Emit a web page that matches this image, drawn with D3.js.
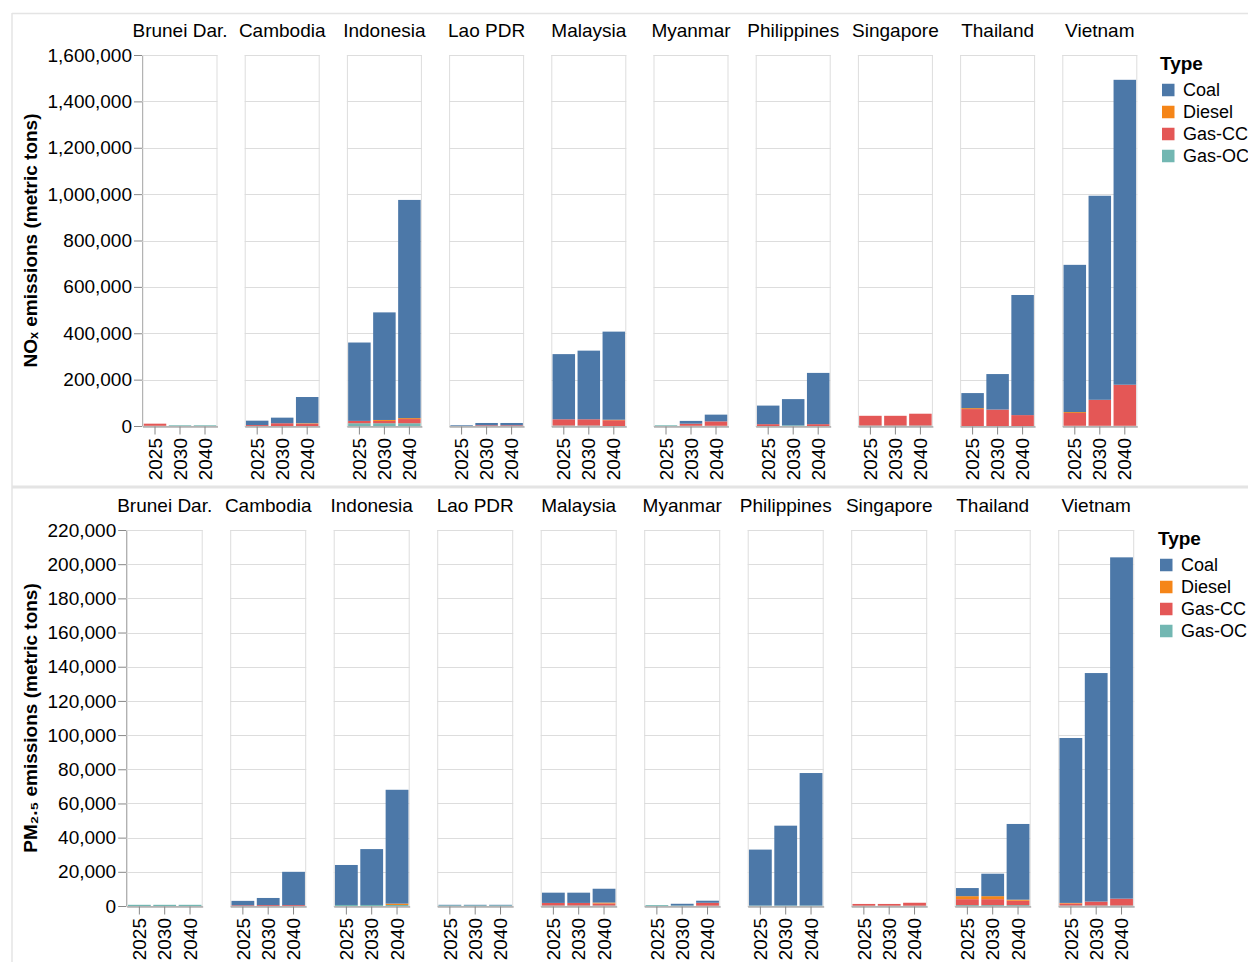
<!DOCTYPE html>
<html>
<head>
<meta charset="utf-8">
<script src="https://cdn.jsdelivr.net/npm/d3@7"></script>
<style>
  html, body { margin: 0; padding: 0; background: #fff; }
  svg text { font-family: "Liberation Sans", Arial, Helvetica, sans-serif; fill: #000; }
</style>
</head>
<body>
<svg id="chart" width="1248" height="962"></svg>
<script>
// ---------- data ----------
const countries = ["Brunei Dar.", "Cambodia", "Indonesia", "Lao PDR", "Malaysia", "Myanmar", "Philippines", "Singapore", "Thailand", "Vietnam"];
const years = ["2025", "2030", "2040"];
const types = ["Coal", "Diesel", "Gas-CC", "Gas-OC"];
const typeColors = ["#4c78a8", "#f58518", "#e45756", "#72b7b2"];

// NOx emissions (metric tons), per country: [2025, 2030, 2040]
const noxCoal   = [[0,0,0],[19000,24000,113000],[338000,464000,941000],[3000,10000,10000],[281000,296000,380000],[0,12000,29000],[80000,113000,221000],[0,0,0],[65000,153000,518000],[635000,880000,1315000]];
const noxDiesel = [[0,0,0],[0,0,2000],[0,4000,4000],[0,0,0],[0,0,2000],[0,0,0],[0,0,0],[0,0,0],[4000,0,0],[4000,0,0]];
const noxGasCC  = [[9000,0,0],[4000,12000,10000],[10000,10000,18000],[0,3000,3000],[27000,27000,25000],[0,9000,19000],[8000,0,8000],[42000,42000,51000],[73000,71000,47000],[55000,112000,177000]];
const noxGasOC  = [[1000,3000,3000],[0,0,0],[12000,12000,12000],[0,0,0],[2000,2000,0],[3000,1000,1000],[0,3000,0],[2000,2000,2000],[0,0,0],[1000,1000,1000]];
const noxTicks  = [0,200000,400000,600000,800000,1000000,1200000,1400000,1600000];

// PM2.5 emissions (metric tons), per country: [2025, 2030, 2040]
const pmCoal   = [[0,0,0],[2600,4200,19500],[23400,32700,66600],[300,300,300],[6000,6000,8100],[0,1000,1200],[32700,46700,77500],[0,0,0],[4750,13150,44300],[96500,133700,199700]];
const pmDiesel = [[0,0,0],[0,0,0],[0,0,800],[0,0,0],[0,0,500],[0,0,0],[0,0,0],[0,0,0],[1750,1750,600],[300,0,0]];
const pmGasCC  = [[0,0,0],[400,500,500],[0,0,0],[0,0,0],[1500,1500,1200],[0,0,1700],[0,0,0],[1000,1000,1700],[3500,3500,2600],[1200,2300,4000]];
const pmGasOC  = [[700,700,700],[0,0,0],[600,600,600],[400,400,400],[300,300,300],[500,300,200],[300,300,300],[200,200,200],[500,500,500],[300,300,300]];
const pmTicks  = [0,20000,40000,60000,80000,100000,120000,140000,160000,180000,200000,220000];

// ---------- drawing ----------
const svg = d3.select("#chart");
const FONT = 19;

// frame lines
svg.append("line").attr("x1", 12).attr("x2", 1248).attr("y1", 13.5).attr("y2", 13.5).attr("stroke", "#e4e4e4").attr("stroke-width", 1.5);
svg.append("line").attr("x1", 12).attr("x2", 12).attr("y1", 13).attr("y2", 962).attr("stroke", "#e4e4e4").attr("stroke-width", 1.5);
svg.append("line").attr("x1", 12).attr("x2", 1248).attr("y1", 487).attr("y2", 487).attr("stroke", "#e4e4e4").attr("stroke-width", 3);

const colorScale = d3.scaleOrdinal().domain(types).range(typeColors);
const stackKeys = ["Gas-OC", "Gas-CC", "Diesel", "Coal"];

function drawChart(cfg) {
  const g = svg.append("g");
  const y = d3.scaleLinear().domain([0, cfg.max]).range([cfg.bottom, cfg.top]);
  const ph = cfg.bottom - cfg.top;

  // y axis
  const yAxis = g.append("g")
    .attr("transform", `translate(${cfg.x0 - 0.5},0)`)
    .call(d3.axisLeft(y).tickValues(cfg.ticks).tickFormat(d3.format(",")).tickSize(8).tickSizeOuter(0).tickPadding(2));
  yAxis.select(".domain").attr("stroke", "#888");
  yAxis.selectAll(".tick line").attr("stroke", "#888");
  yAxis.selectAll(".tick text").attr("font-size", FONT).attr("fill", "#000");

  // y title
  g.append("text")
    .attr("transform", `translate(37,${(cfg.top + cfg.bottom) / 2}) rotate(-90)`)
    .attr("text-anchor", "middle")
    .attr("font-size", FONT)
    .attr("font-weight", "bold")
    .text(cfg.title);

  const series = { "Coal": cfg.coal, "Diesel": cfg.diesel, "Gas-CC": cfg.gascc, "Gas-OC": cfg.gasoc };

  countries.forEach((c, ci) => {
    const px = cfg.x0 + ci * cfg.step;
    const pg = g.append("g").attr("transform", `translate(${px},0)`);
    const x = d3.scaleBand().domain(years).range([0, cfg.pw]).paddingInner(0.1).paddingOuter(0.05);

    // header
    pg.append("text")
      .attr("x", cfg.pw / 2)
      .attr("y", cfg.top - 18.5)
      .attr("text-anchor", "middle")
      .attr("font-size", FONT)
      .text(c);

    // grid
    pg.selectAll("line.grid").data(cfg.ticks).enter().append("line")
      .attr("class", "grid")
      .attr("x1", 0).attr("x2", cfg.pw)
      .attr("y1", d => Math.round(y(d)) + 0.5).attr("y2", d => Math.round(y(d)) + 0.5)
      .attr("stroke", "#ddd").attr("stroke-width", 1);

    // panel border
    pg.append("rect")
      .attr("x", 0.5).attr("y", cfg.top + 0.5)
      .attr("width", cfg.pw - 1).attr("height", ph)
      .attr("fill", "none").attr("stroke", "#ddd").attr("stroke-width", 1);

    // stacked bars
    const rows = years.map((yr, yi) => {
      const r = { year: yr };
      types.forEach(t => { r[t] = series[t][ci][yi]; });
      return r;
    });
    const stacked = d3.stack().keys(stackKeys)(rows);
    stacked.forEach(layer => {
      pg.selectAll(null).data(layer).enter().append("rect")
        .attr("x", d => x(d.data.year))
        .attr("width", x.bandwidth())
        .attr("y", d => y(d[1]))
        .attr("height", d => Math.max(0, y(d[0]) - y(d[1])))
        .attr("fill", colorScale(layer.key));
    });

    // x axis
    const xAxis = pg.append("g")
      .attr("transform", `translate(0,${cfg.bottom + 0.5})`)
      .call(d3.axisBottom(x).tickSize(8).tickSizeOuter(0));
    xAxis.select(".domain").attr("stroke", "#888");
    xAxis.selectAll(".tick line").attr("stroke", "#888");
    xAxis.selectAll(".tick text")
      .attr("font-size", FONT).attr("fill", "#000")
      .attr("transform", "rotate(-90)")
      .attr("text-anchor", "end")
      .attr("x", -11.5).attr("y", 0).attr("dy", "0.35em");
  });

  // legend
  const lg = g.append("g").attr("transform", `translate(${cfg.legendX},${cfg.top})`);
  lg.append("text").attr("x", 0).attr("y", 15).attr("font-size", FONT).attr("font-weight", "bold").text("Type");
  types.forEach((t, i) => {
    const cy = 35 + i * 22;
    lg.append("rect").attr("x", 2).attr("y", cy - 6.25).attr("width", 12.5).attr("height", 12.5).attr("fill", colorScale(t));
    lg.append("text").attr("x", 23).attr("y", cy).attr("dy", "0.35em").attr("font-size", 18).text(t);
  });
}

drawChart({
  top: 55, bottom: 426, x0: 142.5, step: 102.2, pw: 75, max: 1600000, ticks: noxTicks,
  title: "NOₓ emissions (metric tons)",
  coal: noxCoal, diesel: noxDiesel, gascc: noxGasCC, gasoc: noxGasOC,
  legendX: 1160
});

drawChart({
  top: 530, bottom: 906, x0: 126.7, step: 103.5, pw: 76, max: 220000, ticks: pmTicks,
  title: "PM₂.₅ emissions (metric tons)",
  coal: pmCoal, diesel: pmDiesel, gascc: pmGasCC, gasoc: pmGasOC,
  legendX: 1158
});
</script>
</body>
</html>
